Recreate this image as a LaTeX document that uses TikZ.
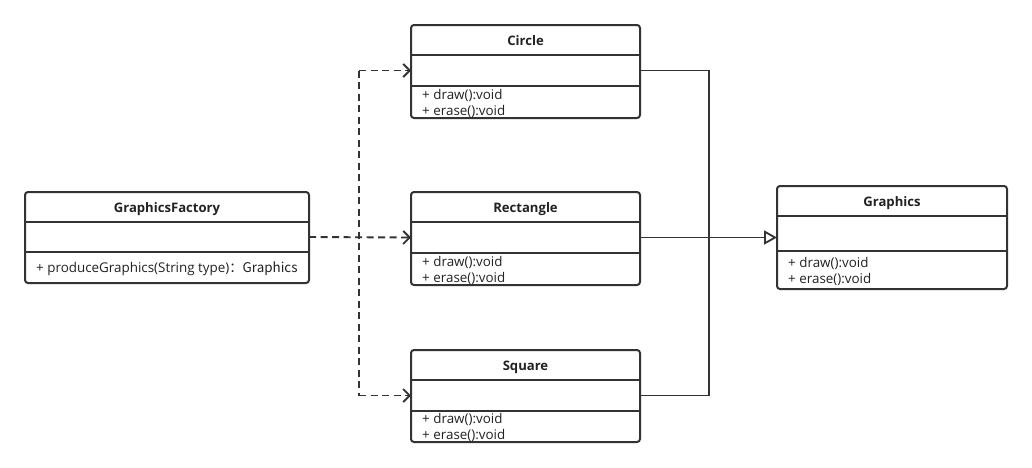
\documentclass[tikz,border=0pt]{standalone}
\usepackage{fontspec}
\setmainfont{Open Sans}
\newfontfamily\cjk{Noto Sans CJK SC}
\usetikzlibrary{arrows.meta}
\definecolor{ln}{HTML}{333333}
\definecolor{tx}{HTML}{222222}
\tikzset{
  boxline/.style={draw=ln, line width=2pt},
  classbox/.style={draw=ln, line width=2pt, rounded corners=3pt, inner sep=0pt, outer sep=0pt, anchor=north west},
  titletext/.style={font=\fontsize{13.1}{15}\selectfont\bfseries, text=tx, inner sep=0pt, anchor=base},
  methtext/.style={font=\fontsize{13.4}{16}\selectfont, text=tx, inner sep=0pt, anchor=west, align=left},
  dep/.style={draw=ln, line width=1.9pt, dash pattern=on 7pt off 4.5pt, -{Straight Barb[length=6.5pt,width=13pt,line width=1.9pt]}},
  depnoarrow/.style={draw=ln, line width=1.9pt, dash pattern=on 7pt off 4.5pt},
  gen/.style={draw=ln, line width=1.8pt},
  genarrow/.style={draw=ln, line width=1.8pt, -{Triangle[open, length=13pt, width=14pt, line width=1.8pt, fill=white]}}
}
% name, left, top, right, bottom, attr height, title, methods
\newcommand{\umlclass}[8]{%
  \node[classbox, minimum width={(#4-#2)*1pt}, minimum height={(#5-#3)*1pt}] (#1) at (#2,#3) {};
  \draw[boxline] (#2,{#3+30}) -- (#4,{#3+30});
  \draw[boxline] (#2,{#3+30+#6}) -- (#4,{#3+30+#6});
  \node[titletext] (#1-title) at ({(#2+#4)/2},{#3+20.6}) {#7};
  \coordinate (#1-aw) at (#2,{#3+30+#6/2});
  \coordinate (#1-ae) at (#4,{#3+30+#6/2});
  \node[methtext] (#1-meth) at ({#2+11},{(#3+30+#6+#5)/2+1}) {#8};
}
\begin{document}
\begin{tikzpicture}[x=1pt,y=-1pt]
\useasboundingbox (0,0) rectangle (1032,467);
\fill[white] (0,0) rectangle (1032,467);

\umlclass{gf}{25}{192}{309}{283}{30}{GraphicsFactory}{+ produceGraphics(String type)\cjk{：}Graphics}
\umlclass{circle}{411}{25}{640}{118}{31}{Circle}{+ draw():void\\+ erase():void}
\umlclass{rect}{411}{192}{640}{285}{31}{Rectangle}{+ draw():void\\+ erase():void}
\umlclass{square}{411}{350}{640}{442}{31}{Square}{+ draw():void\\+ erase():void}
\umlclass{graphics}{777}{186}{1007}{289}{35}{Graphics}{+ draw():void\\+ erase():void}

\coordinate (dj) at (359,238);
\coordinate (gj) at (709,238);

% dependencies
\draw[dep] (gf-ae) -- (rect-aw);
\draw[depnoarrow] (dj |- circle-aw) -- (dj |- square-aw);
\draw[dep] (dj |- circle-aw) -- (circle-aw);
\draw[dep] (dj |- square-aw) -- (square-aw);

% generalization
\draw[gen] (circle-ae) -| (gj);
\draw[gen] (square-ae) -| (gj);
\draw[genarrow] (rect-ae) -- (graphics.west |- rect-ae);
\end{tikzpicture}
\end{document}
